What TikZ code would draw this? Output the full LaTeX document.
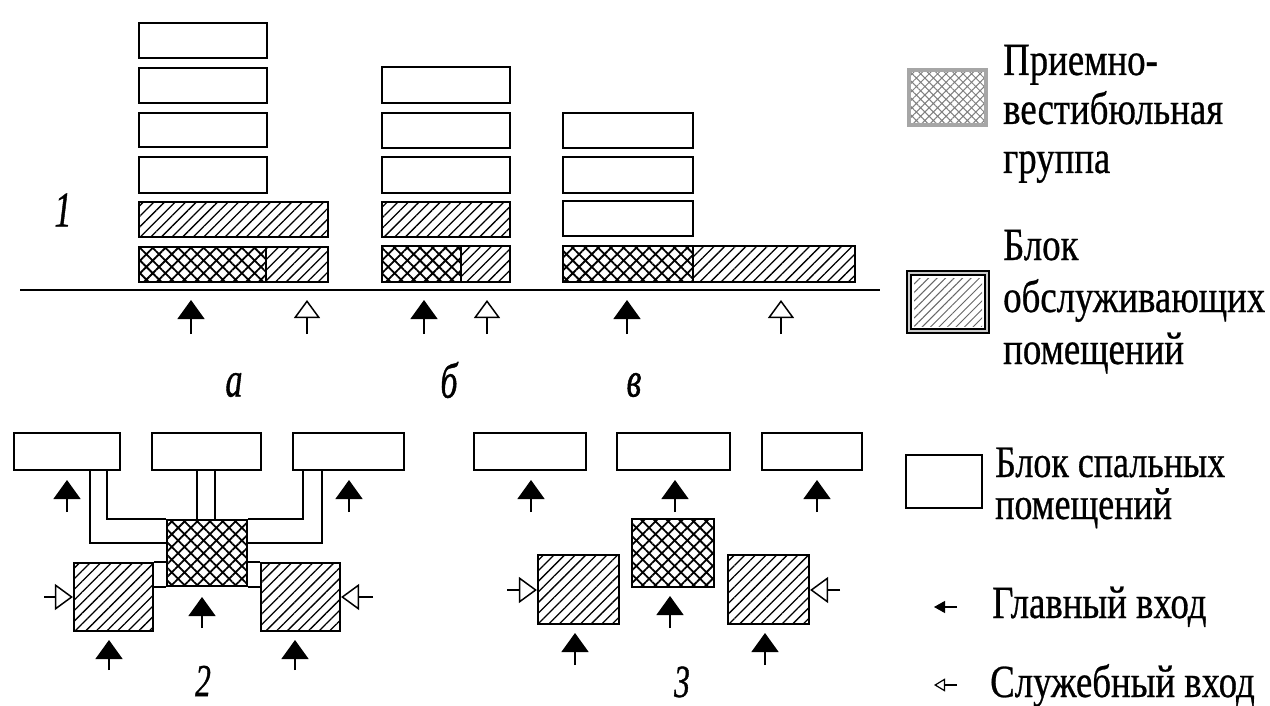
\documentclass[tikz,border=0pt]{standalone}
\usepackage{fontspec}
\setmainfont{Liberation Serif}
\newfontfamily\legfont[FakeStretch=0.8,FakeBold=0.6]{Liberation Serif}
\newfontfamily\labfont[FakeStretch=0.68,FakeBold=0.8]{Liberation Serif}
\usetikzlibrary{arrows.meta,patterns.meta,fit}

\begin{document}
\begin{tikzpicture}[x=1pt,y=-1pt,
  blk/.style={draw, line width=2.2pt, inner sep=0pt},
  sleepbox/.style={blk},
  servbox/.style={blk, pattern={Lines[angle=45,distance=7.5pt,line width=1.3pt]}},
  recpbox/.style={blk, pattern={Hatch[angle=45,distance=9pt,line width=1.8pt]}},
  conn/.style={line width=1.8pt},
  ground/.style={line width=2.6pt},
  mainarr/.style={line width=1.5pt, -{Triangle[width=27pt,length=19pt]}},
  servarr/.style={line width=1.5pt, -{Triangle[open,width=26pt,length=18pt,fill=white]}},
  mainsmall/.style={line width=1.3pt, -{Triangle[width=12pt,length=11pt]}},
  servsmall/.style={line width=1.2pt, -{Triangle[open,width=13pt,length=11pt,fill=white]}},
  legtxt/.style={anchor=base west, inner sep=0pt, align=left},
  lab/.style={inner sep=0pt, font=\labfont\itshape\fontsize{50}{56}\selectfont},
  labsm/.style={inner sep=0pt, font=\labfont\itshape\fontsize{46}{50}\selectfont}
]
\useasboundingbox (0,0) rectangle (1270,706);
\fill[white] (0,0) rectangle (1270,706);

% ---------- Section 1 ----------
% column a
\node[sleepbox, fit={(139,23)(267,58)}]  (A1) {};
\node[sleepbox, fit={(139,68)(267,103)}] (A2) {};
\node[sleepbox, fit={(139,113)(267,147)}] (A3) {};
\node[sleepbox, fit={(139,157)(267,193)}] (A4) {};
\node[servbox, fit={(139,202)(328,237)}] (AS) {};
\node[recpbox, fit={(139,247)(266,282)}] (AX) {};
\node[servbox, fit={(266,247)(328,282)}] (AH) {};
% column b
\node[sleepbox, fit={(382,67)(510,103)}]  (B1) {};
\node[sleepbox, fit={(382,113)(510,148)}] (B2) {};
\node[sleepbox, fit={(382,157)(510,193)}] (B3) {};
\node[servbox, fit={(382,202)(510,237)}] (BS) {};
\node[recpbox, fit={(382,246)(461,282)}] (BX) {};
\node[servbox, fit={(461,246)(510,282)}] (BH) {};
% column v
\node[sleepbox, fit={(563,113)(693,148)}] (C1) {};
\node[sleepbox, fit={(563,157)(693,193)}] (C2) {};
\node[sleepbox, fit={(563,201)(693,236)}] (C3) {};
\node[recpbox, fit={(563,246)(693,282)}] (CX) {};
\node[servbox, fit={(693,246)(855,282)}] (CH) {};
% ground
\coordinate (g0) at (20,290);
\coordinate (g1) at (880,290);
\draw[ground] (g0) -- (g1);
% entrances
\foreach \n/\x in {ma/191, mb/424, mc/627}{
  \coordinate (\n t) at (\x,334); \coordinate (\n h) at (\x,300);
  \draw[mainarr] (\n t) -- (\n h);}
\foreach \n/\x in {sa/307, sb/487, sc/781}{
  \coordinate (\n t) at (\x,334); \coordinate (\n h) at (\x,300);
  \draw[servarr] (\n t) -- (\n h);}
\node[lab] (l1) at (63,210) {1};
\node[lab] (la) at (234,385) {а};
\node[lab] (lb) at (449,380) {б};
\node[lab] (lv) at (634,385) {в};

% ---------- Section 2 ----------
\node[sleepbox, fit={(14,433)(120,470)}]  (L2) {};
\node[sleepbox, fit={(152,433)(261,470)}] (M2) {};
\node[sleepbox, fit={(293,433)(404,470)}] (R2) {};
\node[recpbox, fit={(167,520)(247,586)}] (X2) {};
\node[servbox, fit={(74,563)(153,631)}] (HL2) {};
\node[servbox, fit={(261,563)(340,631)}] (HR2) {};
\coordinate (p1) at (90,543);
\coordinate (p2) at (107,520);
\coordinate (p3) at (197,500);
\coordinate (p4) at (215,500);
\coordinate (p5) at (303,520);
\coordinate (p6) at (322,543);
\draw[conn] (L2.south -| p1) |- (X2.west |- p1);
\draw[conn] (L2.south -| p2) |- (X2.north west);
\draw[conn] (M2.south -| p3) -- (X2.north -| p3);
\draw[conn] (M2.south -| p4) -- (X2.north -| p4);
\draw[conn] (R2.south -| p5) |- (X2.north east);
\draw[conn] (R2.south -| p6) |- (X2.east |- p6);
\draw[conn] (HL2.north east) -- (X2.west |- HL2.north);
\draw[conn] (HL2.east |- X2.south) -- (X2.south west);
\draw[conn] (HR2.north west) -- (X2.east |- HR2.north);
\draw[conn] (HR2.west |- X2.south) -- (X2.south east);
\foreach \n/\x/\ya/\yb in {m2a/67/512/480, m2b/349/512/480, m2c/109/670/640, m2d/295/670/640, m2e/202/628/597}{
  \coordinate (\n t) at (\x,\ya); \coordinate (\n h) at (\x,\yb);
  \draw[mainarr] (\n t) -- (\n h);}
\coordinate (s2l) at (44,597);
\coordinate (s2r) at (373,597);
\draw[servarr] (s2l) -- (HL2.west |- s2l);
\draw[servarr] (s2r) -- (HR2.east |- s2r);
\node[labsm] (l2) at (203,681) {2};

% ---------- Section 3 ----------
\node[sleepbox, fit={(474,433)(586,470)}] (L3) {};
\node[sleepbox, fit={(617,433)(730,470)}] (M3) {};
\node[sleepbox, fit={(762,433)(862,470)}] (R3) {};
\node[recpbox, fit={(632,519)(714,587)}] (X3) {};
\node[servbox, fit={(538,555)(619,624)}] (HL3) {};
\node[servbox, fit={(728,555)(809,624)}] (HR3) {};
\foreach \n/\x/\ya/\yb in {m3a/531/512/480, m3b/675/512/480, m3c/817/512/480, m3d/575/665/633, m3e/765/665/633, m3f/670/628/596}{
  \coordinate (\n t) at (\x,\ya); \coordinate (\n h) at (\x,\yb);
  \draw[mainarr] (\n t) -- (\n h);}
\coordinate (s3l) at (507,590);
\coordinate (s3r) at (840,590);
\draw[servarr] (s3l) -- (HL3.west |- s3l);
\draw[servarr] (s3r) -- (HR3.east |- s3r);
\node[labsm] (l3) at (682,682) {3};

% ---------- Legend ----------
\node[draw=gray!70, line width=4pt, inner sep=0pt,
      pattern={Hatch[angle=45,distance=6pt,line width=1pt]}, pattern color=gray,
      fit={(909,70)(986,125)}] (LX) {};
\node[draw, line width=2pt, double=gray!40, double distance=1.5pt, inner sep=0pt,
      fit={(909,273)(987,331)}] (LHo) {};
\node[inner sep=0pt, pattern={Lines[angle=45,distance=6pt,line width=1pt]}, pattern color=gray!80!black,
      fit={(914,278)(982,326)}] (LH) {};
\node[sleepbox, fit={(906,455)(982,508)}] (LS) {};
\coordinate (k1t) at (957,607); \coordinate (k1h) at (934,607);
\draw[mainsmall] (k1t) -- (k1h);
\coordinate (k2t) at (957,685); \coordinate (k2h) at (934,685);
\draw[servsmall] (k2t) -- (k2h);

\node[legtxt, font=\legfont\fontsize{46}{49}\selectfont] (t1) at (1003,173) {Приемно-\\вестибюльная\\группа};
\node[legtxt, font=\legfont\fontsize{46}{52}\selectfont] (t2) at (1003,364) {Блок\\обслуживающих\\помещений};
\node[legtxt, font=\legfont\fontsize{45}{42}\selectfont] (t3) at (995,519) {Блок спальных\\помещений};
\node[legtxt, font=\legfont\fontsize{46}{52}\selectfont] (t4) at (992,618) {Главный вход};
\node[legtxt, font=\legfont\fontsize{46}{52}\selectfont] (t5) at (990,697) {Служебный вход};
\end{tikzpicture}
\end{document}
